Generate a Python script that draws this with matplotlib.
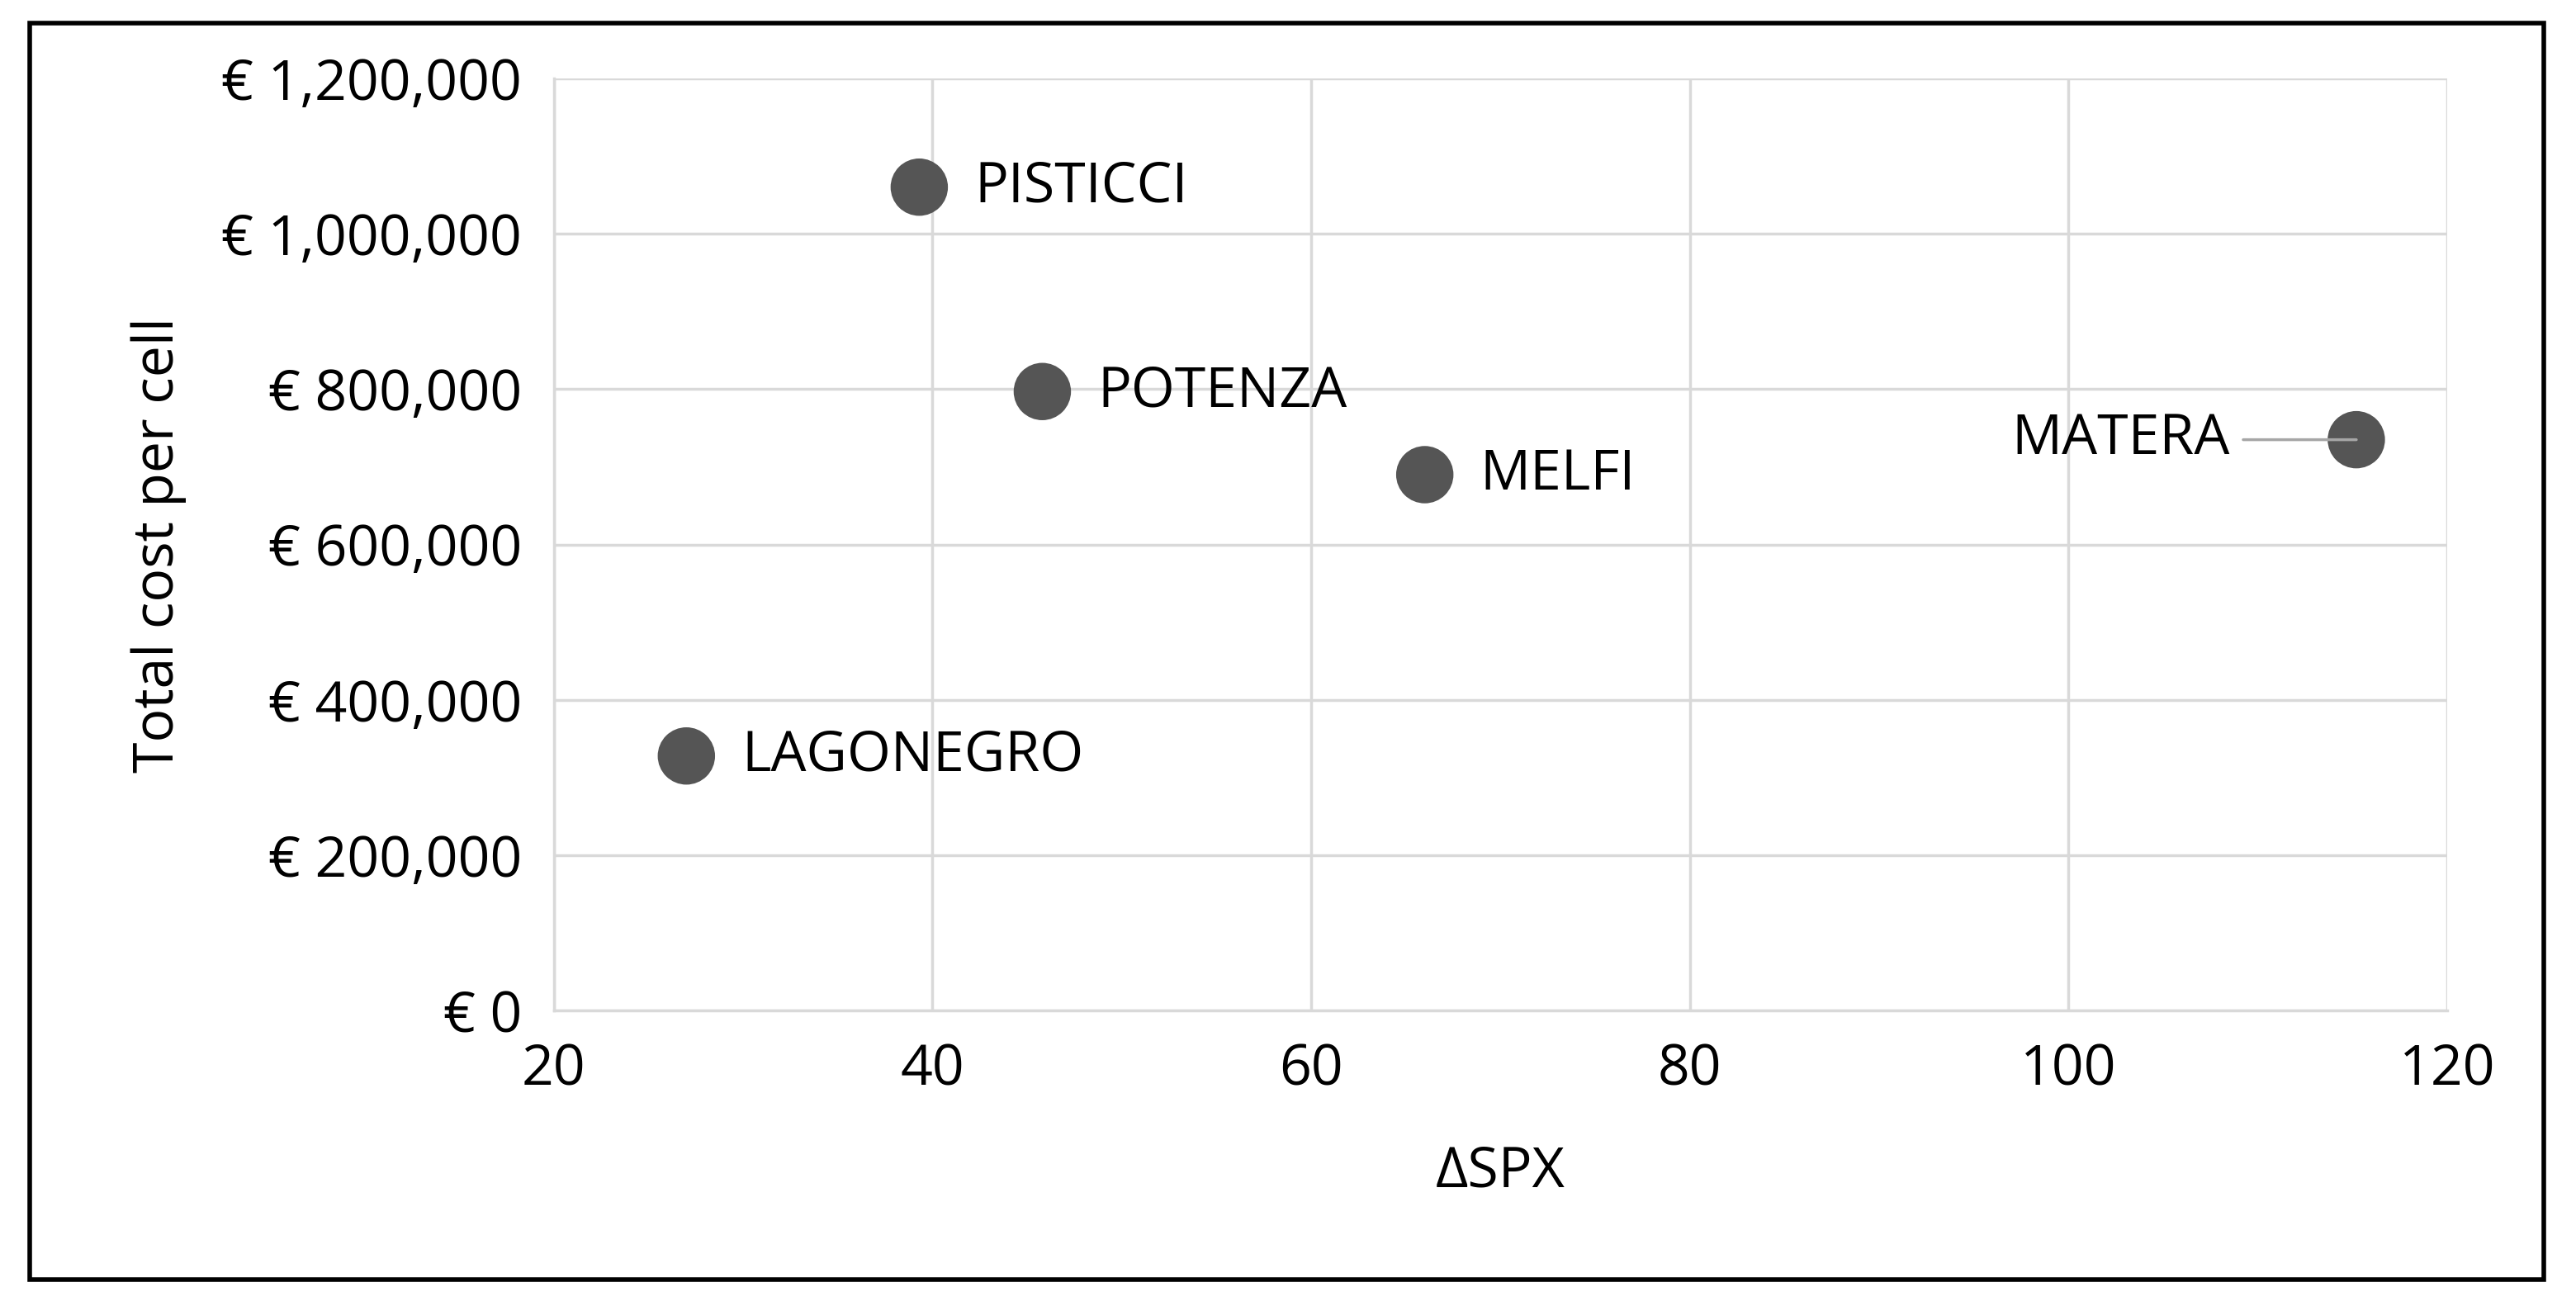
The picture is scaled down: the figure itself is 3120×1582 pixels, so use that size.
import matplotlib
matplotlib.use("Agg")
import matplotlib.pyplot as plt
from matplotlib.patches import Rectangle

names = ["PISTICCI", "POTENZA", "MELFI", "MATERA", "LAGONEGRO"]
dspx = [39.3, 45.8, 66.0, 115.2, 27.0]
cost = [1060000, 797000, 690000, 735000, 328000]
xticks = [20, 40, 60, 80, 100, 120]
yticks = [0, 200000, 400000, 600000, 800000, 1000000, 1200000]
ylabels = ["€ 0", "€ 200,000", "€ 400,000", "€ 600,000", "€ 800,000", "€ 1,000,000", "€ 1,200,000"]

plt.rcParams['font.family'] = ['Open Sans', 'DejaVu Sans']
fig = plt.figure(figsize=(31.2, 15.82), dpi=100)
ax = fig.add_axes([0.215, 0.226, 0.735, 0.714])
ax.scatter(dspx, cost, s=2500, color="#555555", zorder=3, edgecolors="none")
ax.set_xlim(20, 120)
ax.set_ylim(0, 1200000)
ax.set_xticks(xticks)
ax.set_yticks(yticks)
ax.set_yticklabels(ylabels)
ax.grid(True, color="#d9d9d9", linewidth=2.5)
ax.set_axisbelow(True)
for s in ["top", "right"]:
    ax.spines[s].set_visible(False)
ax.spines["left"].set_color("#d9d9d9"); ax.spines["left"].set_linewidth(2.5)
ax.spines["bottom"].set_color("#d9d9d9"); ax.spines["bottom"].set_linewidth(2.5)
ax.tick_params(length=0, labelsize=49, pad=28, colors="black")
ax.set_xlabel("ΔSPX", fontsize=49, labelpad=40)
ax.set_ylabel("Total cost per cell", fontsize=49, labelpad=30)

for n, x, y in zip(names, dspx, cost):
    if n == "MATERA":
        ax.annotate(n, xy=(x, y), xytext=(x - 6.7, y), fontsize=49, ha="right", va="center",
                    arrowprops=dict(arrowstyle="-", color="#a6a6a6", lw=2.5, shrinkA=10, shrinkB=0))
    else:
        ax.annotate(n, xy=(x, y), xytext=(48, 0), textcoords="offset points", fontsize=49,
                    ha="left", va="center")

fig.patches.append(Rectangle((0.0115, 0.02), 0.976, 0.962, transform=fig.transFigure,
                             fill=False, edgecolor="black", linewidth=4))
fig.savefig("out.png", dpi=100)
